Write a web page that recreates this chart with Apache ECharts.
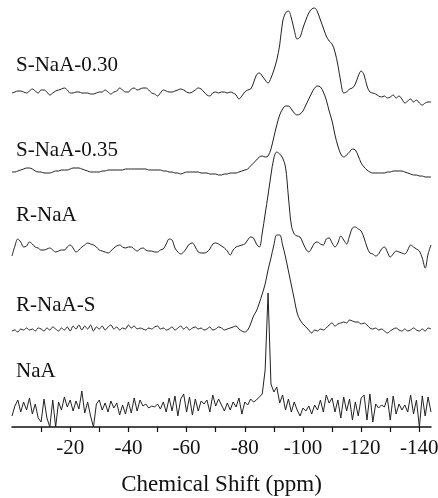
<!DOCTYPE html>
<html>
<head>
<meta charset="utf-8">
<script src="https://cdn.jsdelivr.net/npm/echarts@6/dist/echarts.min.js"></script>
<style>
    html, body { margin: 0; padding: 0; background: #fff; }
    #chart { width: 438px; height: 498px; }
</style>
</head>
<body>
<div id="chart"></div>
<script>
// chemical shift grid (ppm), one point per ppm
var shift = [
    0, -1, -2, -3, -4, -5, -6, -7, -8, -9, -10, -11, -12, -13, -14, -15, -16, -17, -18, -19,
    -20, -21, -22, -23, -24, -25, -26, -27, -28, -29, -30, -31, -32, -33, -34, -35, -36, -37, -38, -39,
    -40, -41, -42, -43, -44, -45, -46, -47, -48, -49, -50, -51, -52, -53, -54, -55, -56, -57, -58, -59,
    -60, -61, -62, -63, -64, -65, -66, -67, -68, -69, -70, -71, -72, -73, -74, -75, -76, -77, -78, -79,
    -80, -81, -82, -83, -84, -85, -86, -87, -88, -89, -90, -91, -92, -93, -94, -95, -96, -97, -98, -99,
    -100, -101, -102, -103, -104, -105, -106, -107, -108, -109, -110, -111, -112, -113, -114, -115, -116, -117, -118, -119,
    -120, -121, -122, -123, -124, -125, -126, -127, -128, -129, -130, -131, -132, -133, -134, -135, -136, -137, -138, -139,
    -140, -141, -142, -143, -144
];

var samples = ['S-NaA-0.30', 'S-NaA-0.35', 'R-NaA', 'R-NaA-S', 'NaA'];
// vertical stacking offset of each spectrum (a.u.)
var offsets = [332, 254, 178, 97, 19];

// intensities (a.u.)
var sNaA030 = [
    2, 3, 4, 4, 3, 2, 4, 6, 4, 2,
    5, 5, 3, 0, 2, 4, 5, 6, 7, 5,
    2, 2, 3, 3, 2, 2, 2, 1, 1, 2,
    3, 3, 5, 3, 1, 3, 4, 7, 5, 3,
    3, 6, 7, 5, 6, 7, 7, 5, 2, 1,
    -1, 2, 5, 4, 3, 3, 4, 5, 6, 5,
    3, 2, 3, 5, 7, 6, 3, 0, -1, 2,
    3, 2, 3, 3, 2, 3, 2, 0, -4, -1,
    3, 5, 6, 12, 20, 22, 19, 15, 12, 17,
    25, 35, 50, 73, 82, 84, 77, 65, 56, 58,
    67, 75, 82, 86, 87, 83, 75, 67, 59, 54,
    51, 43, 30, 13, 2, 3, 6, 7, 11, 19,
    24, 20, 9, 3, 2, 1, -1, -2, -1, -3,
    -2, 0, -3, -1, -4, -8, -6, -4, -7, -5,
    -8, -10, -8, -7, -7
];
var sNaA035 = [
    1, 1, 2, 3, 4, 5, 5, 4, 2, 1,
    1, 0, 0, 0, 1, 2, 2, 3, 3, 3,
    4, 5, 5, 5, 4, 3, 2, 1, 1, 1,
    1, 2, 2, 3, 3, 3, 3, 3, 3, 4,
    4, 4, 4, 4, 4, 4, 4, 3, 3, 3,
    3, 3, 2, 2, 1, 1, 0, 0, -1, 0,
    1, 1, 1, 1, 1, 0, 0, 0, -1, -1,
    -1, -2, -2, -1, -1, 0, 0, 0, 1, 2,
    3, 4, 7, 10, 13, 16, 17, 16, 17, 24,
    36, 48, 58, 64, 67, 67, 64, 60, 58, 59,
    62, 68, 74, 80, 85, 87, 86, 81, 73, 62,
    52, 38, 27, 19, 16, 18, 21, 24, 23, 17,
    10, 6, 3, 1, 0, 0, 0, 0, 0, 1,
    1, 2, 2, 2, 2, 1, 0, -1, -2, -2,
    -3, -3, -4, -4, -4
];
var rNaA = [
    -7, 3, 10, 7, 2, 3, 7, 5, 2, 1,
    -1, -1, 0, 1, -1, -3, -2, -1, -1, 2,
    4, 1, -3, -1, 2, 4, 6, 5, 4, 2,
    -1, -2, -3, -4, -2, 1, 3, 4, 2, 1,
    2, 2, 0, -2, 0, 1, -1, -2, -2, -3,
    -3, -1, 0, 5, 10, 9, 1, -3, -5, -3,
    1, 5, 6, 2, -3, -4, -4, -3, 0, 5,
    6, 5, 3, 1, -2, -6, -1, 2, 3, 4,
    5, 9, 12, 11, 5, 2, 16, 35, 54, 74,
    91, 97, 95, 91, 82, 52, 24, 15, 13, 12,
    6, 0, -3, 1, 6, 7, 5, 4, 10, 11,
    6, 2, 6, 13, 9, 5, 13, 21, 22, 20,
    18, 11, 2, -4, -5, -7, -5, 0, 2, -3,
    -8, -5, -2, -3, -4, -5, -1, 4, 2, 0,
    -2, -9, -19, -5, 4
];
var rNaAS = [
    -1, 0, -2, 1, 0, 2, 0, 1, -1, 2,
    1, -1, 2, 0, 3, 1, -1, 2, 0, 3,
    -1, 4, 1, 5, 0, 4, 1, 5, -1, 3,
    1, 4, 0, 3, 5, 1, 3, 0, 2, 1,
    5, 2, 4, 1, 2, 1, 0, 2, 1, 3,
    4, 1, 2, 0, 1, 3, 0, 2, 4, 1,
    3, 0, 2, 3, 1, 2, 0, 1, 3, 0,
    1, 3, 2, 0, 1, 2, 3, 4, 1, -1,
    -2, 0, 6, 14, 19, 27, 36, 46, 60, 72,
    85, 95, 95, 85, 73, 59, 45, 31, 17, 10,
    6, 3, 0, -3, 0, -1, 1, 0, 2, 5,
    7, 4, 6, 7, 8, 7, 10, 9, 8, 8,
    6, 7, 5, 2, 1, 2, 0, 1, -1, -3,
    -1, 1, 2, 0, -1, 1, -1, 0, 2, 0,
    -1, 1, -1, 2, 1
];
var naA = [
    -8, 2, 8, -4, 6, -2, 10, -6, 4, -10,
    -14, 9, -10, -19, 8, -19, 6, -2, 11, 1,
    8, -3, 7, -1, 17, -5, 6, -8, -19, 4,
    8, -2, 5, -4, 7, 0, 5, -7, 3, -6,
    6, -5, 10, -3, 8, 2, 4, 0, 2, 1,
    4, -1, 6, -4, 10, -3, 12, -8, 9, 14,
    -4, 11, -7, 9, -3, 7, 4, 8, -4, 13,
    2, 9, 3, -3, 5, -2, 6, 1, 10, -6,
    6, 3, 9, 6, 8, 11, 14, 38, 115, 24,
    16, 21, 5, 13, -2, 9, -4, 6, -2, -8,
    0, -3, 2, -6, 3, -2, 8, -4, 13, 5,
    10, -4, 8, -10, 11, -3, 9, -12, 6, -8,
    10, 13, -12, 14, -14, 4, 0, 3, 1, 10,
    -12, 12, -6, 4, -2, 3, -4, 13, -6, 8,
    -19, 12, -8, 11, -4
];
var spectra = [sNaA030, sNaA035, rNaA, rNaAS, naA];

var labelTicks = [-20, -40, -60, -80, -100, -120, -140];
var minorTicks = [-10, -20, -30, -40, -50, -60, -70, -80, -90, -100, -110, -120, -130, -140];

var serif = '"Liberation Serif", "Times New Roman", serif';
var labelTops = [55, 140, 205, 295, 361];

var chart = echarts.init(document.getElementById('chart'), null, { renderer: 'canvas' });

var series = samples.map(function(name, k) {
    return {
        name: name,
        type: 'line',
        showSymbol: false,
        smooth: k === 4 ? false : 0.35,
        clip: true,
        lineStyle: { color: '#222', width: 1 },
        data: shift.map(function(s, i) {
            return [s, offsets[k] + spectra[k][i]];
        })
    };
});

var option = {
    animation: false,
    backgroundColor: '#fff',
    grid: { left: 12, right: 7, top: 0, bottom: 71, containLabel: false, outerBoundsMode: 'none' },
    xAxis: {
        type: 'value',
        min: -144,
        max: 0,
        inverse: true,
        name: 'Chemical Shift (ppm)',
        nameLocation: 'middle',
        nameGap: 46,
        nameTextStyle: { fontFamily: serif, fontSize: 23, color: '#111' },
        axisLine: { onZero: false, lineStyle: { color: '#111', width: 1.5 } },
        axisTick: { show: true, length: 5, customValues: minorTicks, lineStyle: { color: '#111', width: 1.2 } },
        axisLabel: {
            customValues: labelTicks,
            margin: 11,
            fontFamily: serif,
            fontSize: 21,
            color: '#111'
        },
        splitLine: { show: false }
    },
    yAxis: {
        type: 'value',
        min: 0,
        max: 427,
        show: false
    },
    graphic: samples.map(function(name, k) {
        return {
            type: 'text',
            left: 16,
            top: labelTops[k],
            style: { text: name, font: '21px ' + serif, fill: '#111' }
        };
    }),
    series: series
};

chart.setOption(option);
</script>
</body>
</html>
